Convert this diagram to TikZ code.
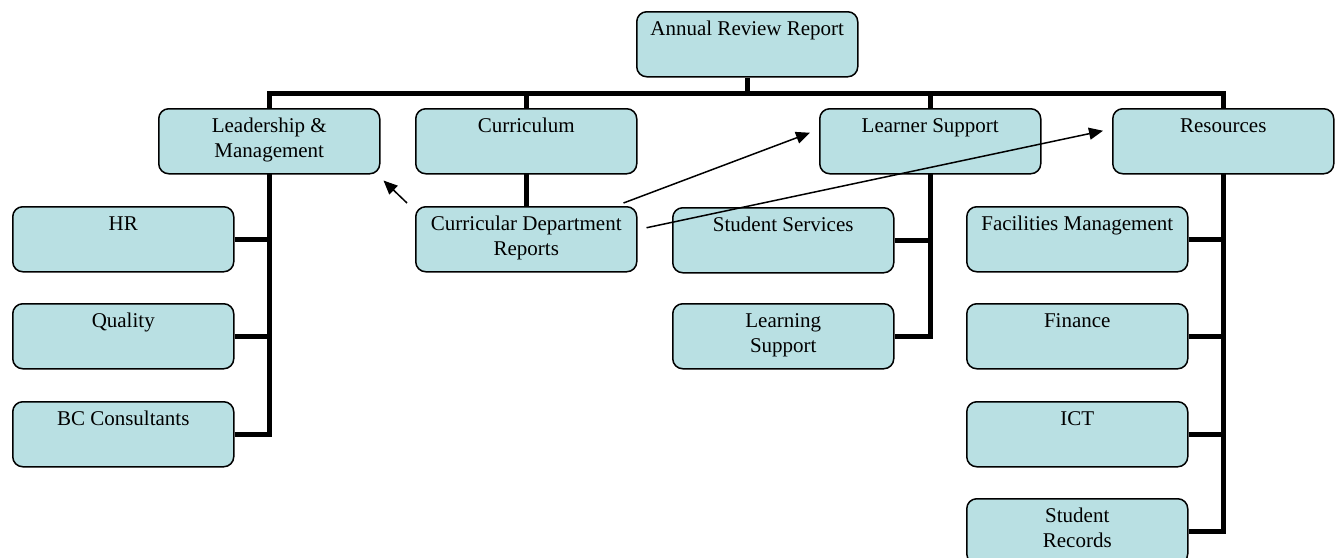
\documentclass[tikz,border=0pt]{standalone}
\usepackage{fontspec}
\setmainfont{Liberation Serif}
\usetikzlibrary{arrows.meta,calc,backgrounds}
\definecolor{boxfill}{RGB}{185,224,227}
\newcommand{\boxtext}[1]{\parbox[t][65pt][t]{216pt}{\fontsize{21}{25}\selectfont\centering\rule{0pt}{24pt}#1}}
\tikzset{
  orgbox/.style={draw=black, line width=1.5pt, fill=boxfill, rounded corners=10pt,
    rectangle, minimum width=221pt, minimum height=65pt, inner sep=0pt, anchor=north west},
  busline/.style={line width=5pt, draw=black, line join=miter},
  link/.style={line width=1.5pt, draw=black, -{Triangle[length=14pt,width=12pt]}},
}
\begin{document}
\begin{tikzpicture}[x=1pt,y=-1pt]
\useasboundingbox (0,0) rectangle (1341,557);
% boxes
\node[orgbox] (top)  at (636,11)  {\boxtext{Annual Review Report}};
\node[orgbox] (lead) at (158,108) {\boxtext{Leadership \&\\Management}};
\node[orgbox] (curr) at (415,108) {\boxtext{Curriculum}};
\node[orgbox] (cdr)  at (415,206) {\boxtext{Curricular Department\\Reports}};
\node[orgbox] (lsup) at (819,108) {\boxtext{Learner Support}};
\node[orgbox] (res)  at (1112,108) {\boxtext{Resources}};
\node[orgbox] (hr)   at (12,206)  {\boxtext{HR}};
\node[orgbox] (qual) at (12,303)  {\boxtext{Quality}};
\node[orgbox] (bc)   at (12,401)  {\boxtext{BC Consultants}};
\node[orgbox] (ss)   at (672,207) {\boxtext{Student Services}};
\node[orgbox] (lrn)  at (672,303) {\boxtext{Learning\\Support}};
\node[orgbox] (fm)   at (966,206) {\boxtext{Facilities Management}};
\node[orgbox] (fin)  at (966,303) {\boxtext{Finance}};
\node[orgbox] (ict)  at (966,401) {\boxtext{ICT}};
\node[orgbox] (sr)   at (966,498) {\boxtext{Student\\Records}};
% connectors
\coordinate (bus) at ($(top.south)+(0,16)$);
\begin{pgfonlayer}{background}
\draw[busline] (top.south) -- (bus);
\draw[busline] (bc.east) -- (bc.east -| lead.south) -- (lead.north |- bus)
  -- (res.north |- bus) -- (sr.east -| res.south) -- (sr.east);
\draw[busline] (curr.north |- bus) -- (cdr.north);
\draw[busline] (lsup.north |- bus) -- (lrn.east -| lsup.south) -- (lrn.east);
\draw[busline] (hr.east) -- (hr.east -| lead.south);
\draw[busline] (qual.east) -- (qual.east -| lead.south);
\draw[busline] (ss.east) -- (ss.east -| lsup.south);
\draw[busline] (fm.east) -- (fm.east -| res.south);
\draw[busline] (fin.east) -- (fin.east -| res.south);
\draw[busline] (ict.east) -- (ict.east -| res.south);
\end{pgfonlayer}
% arrows
\coordinate (a1s) at ($(cdr.north west)+(-8,-3)$);
\coordinate (a1e) at ($(lead.south east)+(3,6)$);
\coordinate (a2s) at ($(cdr.north east)+(-14,-3)$);
\coordinate (a2e) at ($(lsup.west)+(-9,-8.5)$);
\coordinate (a3s) at ($(cdr.east)+(9,-11.5)$);
\coordinate (a3e) at ($(res.west)+(-9,-10.5)$);
\draw[link] (a1s) -- (a1e);
\draw[link] (a2s) -- (a2e);
\draw[link] (a3s) -- (a3e);
\end{tikzpicture}
\end{document}
